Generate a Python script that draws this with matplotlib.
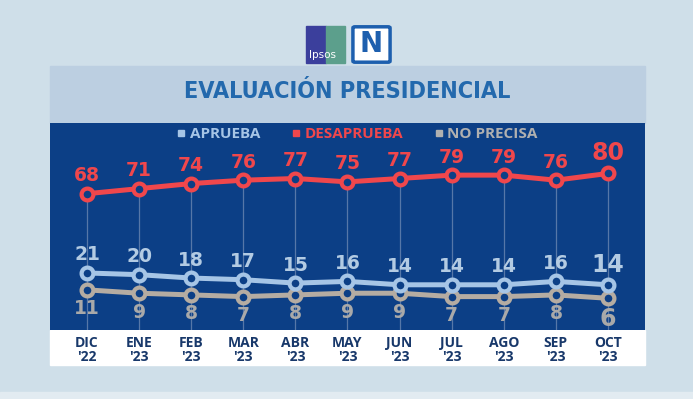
import matplotlib
matplotlib.use("Agg")
import matplotlib.pyplot as plt
from matplotlib.patches import Rectangle, FancyBboxPatch
from matplotlib.lines import Line2D

months = ["DIC", "ENE", "FEB", "MAR", "ABR", "MAY", "JUN", "JUL", "AGO", "SEP", "OCT"]
years = ["'22", "'23", "'23", "'23", "'23", "'23", "'23", "'23", "'23", "'23", "'23"]
aprueba = [21, 20, 18, 17, 15, 16, 14, 14, 14, 16, 14]
desaprueba = [68, 71, 74, 76, 77, 75, 77, 79, 79, 76, 80]
no_precisa = [11, 9, 8, 7, 8, 9, 9, 7, 7, 8, 6]

W, H = 693, 399
BG = "#cfdfe9"
BAND = "#bccfe1"
NAVY = "#0c3f86"
RED = "#f0474c"
LBLUE = "#a6c5e6"
GREY = "#b5aca2"
GREY_TXT = "#a9a9a9"

def fx(px):
    return px / W

def fy(py):
    return 1 - py / H

def box(x0, y0, w, h, color, z=-1):
    # rectangle in pixel units (top-left origin)
    fig.patches.append(Rectangle((fx(x0), fy(y0 + h)), w / W, h / H,
                                 transform=fig.transFigure, color=color, zorder=z))

fig = plt.figure(figsize=(W / 100, H / 100), dpi=100, facecolor=BG)

# background bands
box(0, 392, W, 7, "#e2ebf1")
box(50, 66, 595, 57, BAND)
box(50, 330, 595, 35, "white")

# logos
box(306, 26, 20, 37, "#3b3f9c", z=1)
box(326, 26, 19, 37, "#5c9f8c", z=1)
fig.text(fx(309), fy(55), "Ipsos", color="white", fontsize=7.5,
         ha="left", va="center", zorder=2)
fig.patches.append(FancyBboxPatch((fx(355), fy(61)), fx(33), 33 / H,
                                  boxstyle="round,pad=0.003", transform=fig.transFigure,
                                  facecolor="white", edgecolor="#1d5fae", linewidth=2.5,
                                  zorder=1))
fig.text(fx(371.5), fy(44.5), "N", color="#1d5fae", fontsize=20, fontweight="bold",
         ha="center", va="center", zorder=2)

fig.text(fx(347), fy(91), "EVALUACIÓN PRESIDENCIAL", color="#2369ad",
         fontsize=16.8, fontweight="bold", fontstretch="condensed",
         ha="center", va="center", family="DejaVu Sans")

ax = fig.add_axes([fx(50), fy(330), fx(595), 207 / H])
ax.set_facecolor(NAVY)
for s in ax.spines.values():
    s.set_visible(False)

x = list(range(len(months)))
ax.set_xlim(-0.71, 10.71)
ax.set_ylim(-12.8, 109.9)

for xi, v in zip(x, desaprueba):
    ax.plot([xi, xi], [v, -12.8], color="#5677a8", lw=0.9, zorder=1)

series = [
    (no_precisa, GREY, GREY_TXT, -19),
    (aprueba, LBLUE, "#b3cbe3", 18),
    (desaprueba, RED, RED, 18),
]
for vals, col, tcol, off in series:
    ax.plot(x, vals, color=col, lw=3.6, marker="o", markersize=8.5,
            markerfacecolor=NAVY, markeredgecolor=col, markeredgewidth=3, zorder=3)
    for i, v in enumerate(vals):
        last = i == len(vals) - 1
        shift = (2 if off > 0 else -2) if last else 0
        ax.annotate(str(v), (i, v), xytext=(0, off + shift),
                    textcoords="offset pixels", ha="center", va="center",
                    color=tcol, fontsize=17 if last else 13.5, fontweight="bold", zorder=4)

ax.set_yticks([])
ax.set_xticks(x)
ax.set_xticklabels([m + "\n" + y for m, y in zip(months, years)], color="#18386a",
                   fontsize=10, fontweight="bold", linespacing=0.95, family="Open Sans")
ax.tick_params(axis="x", length=0, pad=4.5)

leg_cols = (LBLUE, RED, "#b0b0b0")
handles = [Line2D([], [], marker="s", color=c, ls="", markersize=5) for c in leg_cols]
leg = fig.legend(handles, ["APRUEBA", "DESAPRUEBA", "NO PRECISA"], ncol=3,
                 loc="center", bbox_to_anchor=(fx(357), fy(134)), frameon=False,
                 handletextpad=0.2, columnspacing=2.0, handlelength=0.7,
                 prop={"weight": "bold", "size": 11, "family": "Open Sans"})
for t, c in zip(leg.get_texts(), leg_cols):
    t.set_color(c)

fig.savefig("out.png", dpi=100, facecolor=BG)
